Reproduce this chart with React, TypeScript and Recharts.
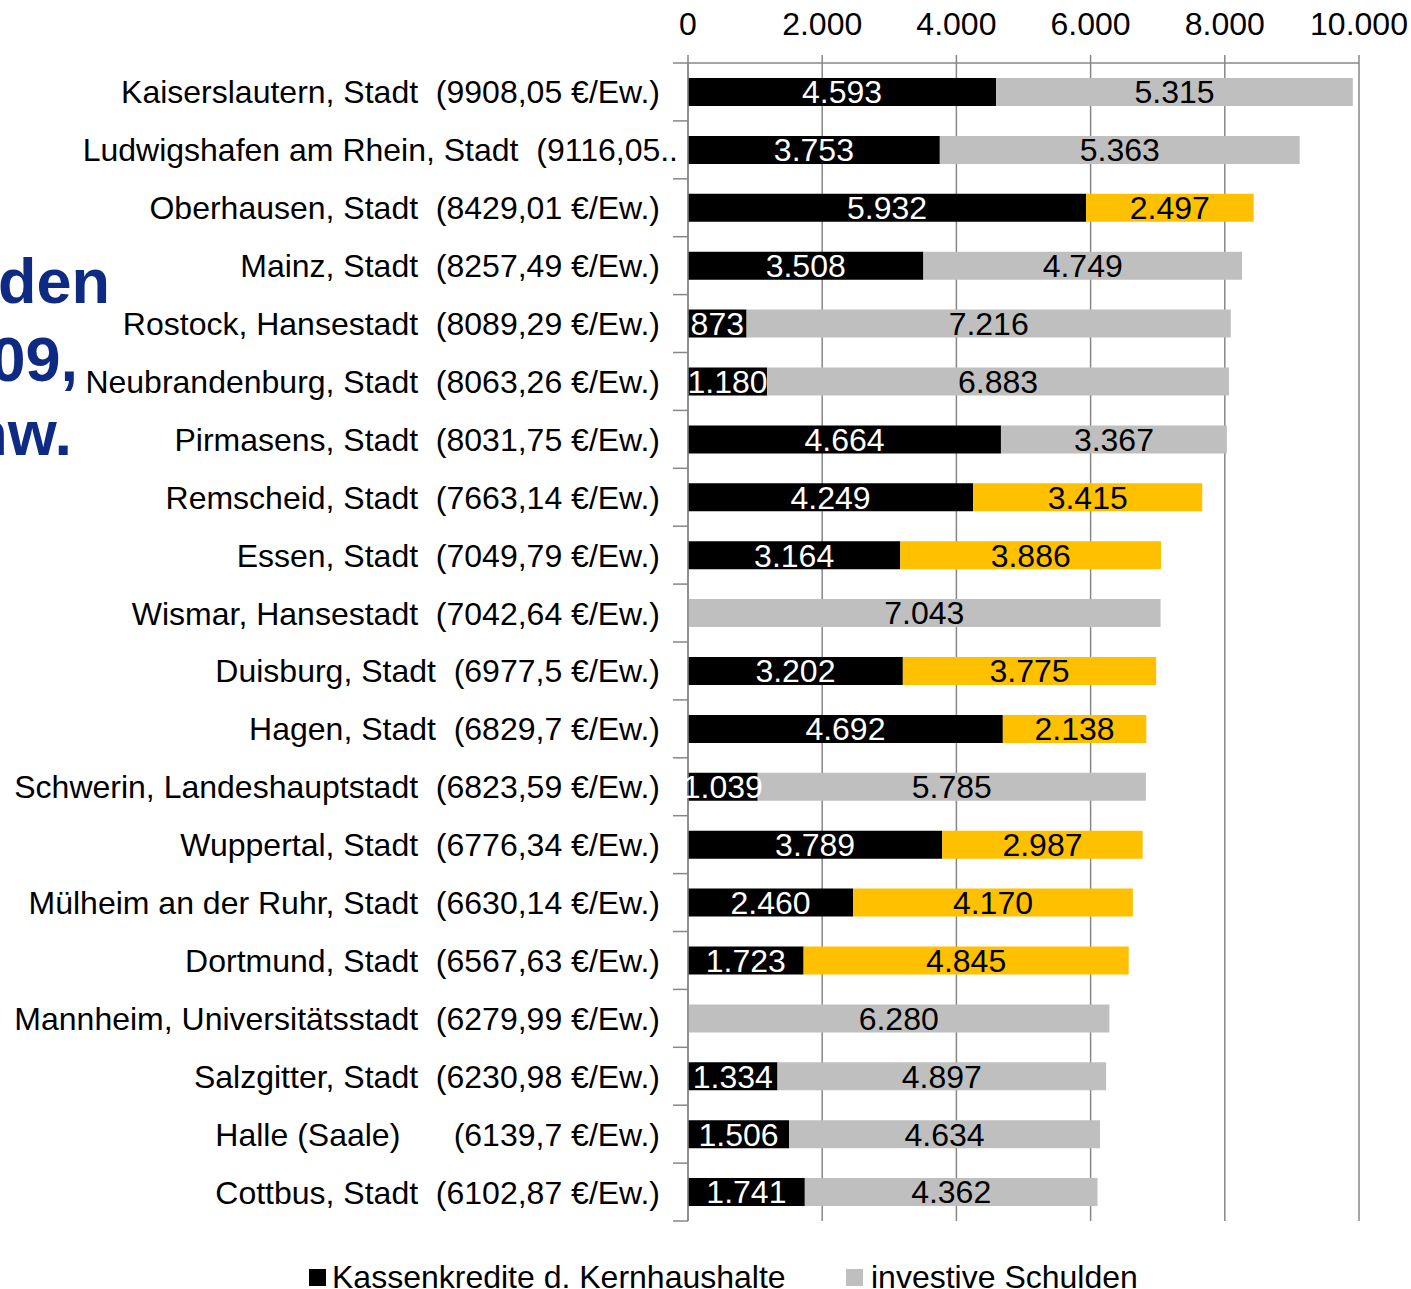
import React from 'react';
import { BarChart, Bar, XAxis, YAxis, CartesianGrid, LabelList, Cell, Legend } from 'recharts';

const categories = [
  'Kaiserslautern, Stadt  (9908,05 €/Ew.)',
  'Ludwigshafen am Rhein, Stadt  (9116,05..',
  'Oberhausen, Stadt  (8429,01 €/Ew.)',
  'Mainz, Stadt  (8257,49 €/Ew.)',
  'Rostock, Hansestadt  (8089,29 €/Ew.)',
  'Neubrandenburg, Stadt  (8063,26 €/Ew.)',
  'Pirmasens, Stadt  (8031,75 €/Ew.)',
  'Remscheid, Stadt  (7663,14 €/Ew.)',
  'Essen, Stadt  (7049,79 €/Ew.)',
  'Wismar, Hansestadt  (7042,64 €/Ew.)',
  'Duisburg, Stadt  (6977,5 €/Ew.)',
  'Hagen, Stadt  (6829,7 €/Ew.)',
  'Schwerin, Landeshauptstadt  (6823,59 €/Ew.)',
  'Wuppertal, Stadt  (6776,34 €/Ew.)',
  'Mülheim an der Ruhr, Stadt  (6630,14 €/Ew.)',
  'Dortmund, Stadt  (6567,63 €/Ew.)',
  'Mannheim, Universitätsstadt  (6279,99 €/Ew.)',
  'Salzgitter, Stadt  (6230,98 €/Ew.)',
  'Halle (Saale)      (6139,7 €/Ew.)',
  'Cottbus, Stadt  (6102,87 €/Ew.)',
];

const kassenkredite = [4593, 3753, 5932, 3508, 873, 1180, 4664, 4249, 3164, 0, 3202, 4692, 1039, 3789, 2460, 1723, 0, 1334, 1506, 1741];
const investiveSchulden = [5315, 5363, 2497, 4749, 7216, 6883, 3367, 3415, 3886, 7043, 3775, 2138, 5785, 2987, 4170, 4845, 6280, 4897, 4634, 4362];
const highlighted = [false, false, true, false, false, false, false, true, true, false, true, true, false, true, true, true, false, false, false, false];

const xTicks = [0, 2000, 4000, 6000, 8000, 10000];
const seriesNames = ['Kassenkredite d. Kernhaushalte', 'investive Schulden'];
const titleFragments = ['den', '09,', 'nw.'];

const data = categories.map((name, i) => ({
  name,
  kassen: kassenkredite[i],
  investiv: investiveSchulden[i],
  hl: highlighted[i],
}));

const FONT = '"Liberation Sans", Arial, sans-serif';
const FS = 32;
const W = 1411;
const H = 1289;
const MARGIN = { top: 0, right: 52, bottom: 28, left: 0 };
const X_AXIS_H = 63;
const LEGEND_H = 40;
const PLOT_H = H - MARGIN.top - MARGIN.bottom - X_AXIS_H - LEGEND_H;
const BAND = PLOT_H / data.length;
const GRID = '#878787';

const fmt = (v: number) => String(v).replace(/\B(?=(\d{3})+(?!\d))/g, '.');

const YTick = (props: any) => {
  const { x, y, payload, index } = props;
  const axisX = x + 28;
  const truncated = String(payload.value).endsWith('..');
  return (
    <g>
      <line x1={axisX - 15} x2={axisX} y1={y - BAND / 2} y2={y - BAND / 2} stroke={GRID} strokeWidth={1.5} />
      {index === data.length - 1 && (
        <line x1={axisX - 15} x2={axisX} y1={y + BAND / 2} y2={y + BAND / 2} stroke={GRID} strokeWidth={1.5} />
      )}
      <text
        x={truncated ? axisX - 10 : x}
        y={y}
        dy="0.36em"
        textAnchor="end"
        fill="#000"
        fontSize={FS}
        fontFamily={FONT}
        style={{ whiteSpace: 'pre' }}
      >
        {payload.value}
      </text>
    </g>
  );
};

const LegendContent = () => (
  <div style={{ position: 'relative', width: W, height: LEGEND_H, fontFamily: FONT, fontSize: FS, color: '#000' }}>
    {seriesNames.map((n, i) => (
      <div
        key={n}
        style={{
          position: 'absolute',
          left: i === 0 ? 309 : 846,
          top: 0,
          height: LEGEND_H,
          display: 'flex',
          alignItems: 'center',
          whiteSpace: 'nowrap',
        }}
      >
        <span style={{ display: 'inline-block', width: 17, height: 17, background: i === 0 ? '#000' : '#BFBFBF', marginRight: i === 0 ? 6 : 8 }} />
        <span style={{ lineHeight: '40px' }}>{n}</span>
      </div>
    ))}
  </div>
);

export default function App() {
  return (
    <div style={{ position: 'absolute', left: 0, top: 0, width: W, height: H, background: '#fff', overflow: 'hidden' }}>
      <svg width={W} height={H} style={{ position: 'absolute', left: 0, top: 0 }}>
        {titleFragments.map((t, i) => (
          <text
            key={t}
            x={[110, 78, 72][i]}
            y={[303, 381, 455][i]}
            textAnchor="end"
            fontFamily={FONT}
            fontWeight="bold"
            fontSize={63}
            fill="#0E2A82"
          >
            {t}
          </text>
        ))}
      </svg>
      <div style={{ position: 'absolute', left: 0, top: 0 }}>
        <BarChart
          width={W}
          height={H}
          data={data}
          layout="vertical"
          margin={MARGIN}
          barSize={28}
        >
          <CartesianGrid horizontal={false} vertical stroke={GRID} strokeWidth={1.5} />
          <XAxis
            type="number"
            orientation="top"
            domain={[0, 10000]}
            ticks={xTicks}
            tickFormatter={fmt}
            height={X_AXIS_H}
            tickSize={8}
            tickMargin={20}
            stroke={GRID}
            strokeWidth={1.5}
            tick={{ fill: '#000', fontSize: FS, fontFamily: FONT }}
            interval={0}
          />
          <YAxis
            type="category"
            dataKey="name"
            width={688}
            tickSize={0}
            tickMargin={28}
            stroke={GRID}
            strokeWidth={1.5}
            tick={<YTick />}
            interval={0}
          />
          <Legend
            verticalAlign="bottom"
            content={<LegendContent />}
            wrapperStyle={{ left: 0, top: H - LEGEND_H + 8, width: W, height: LEGEND_H }}
          />
          <Bar dataKey="kassen" name={seriesNames[0]} stackId="a" fill="#000" isAnimationActive={false}>
            <LabelList
              dataKey="kassen"
              position="center"
              formatter={(v: any) => (v ? fmt(v) : '')}
              fill="#fff"
              fontSize={FS}
              fontFamily={FONT}
            />
          </Bar>
          <Bar dataKey="investiv" name={seriesNames[1]} stackId="a" fill="#BFBFBF" isAnimationActive={false}>
            {data.map((d, i) => (
              <Cell key={i} fill={d.hl ? '#FFC000' : '#BFBFBF'} />
            ))}
            <LabelList
              dataKey="investiv"
              position="center"
              formatter={(v: any) => fmt(v)}
              fill="#000"
              fontSize={FS}
              fontFamily={FONT}
            />
          </Bar>
        </BarChart>
      </div>
    </div>
  );
}
